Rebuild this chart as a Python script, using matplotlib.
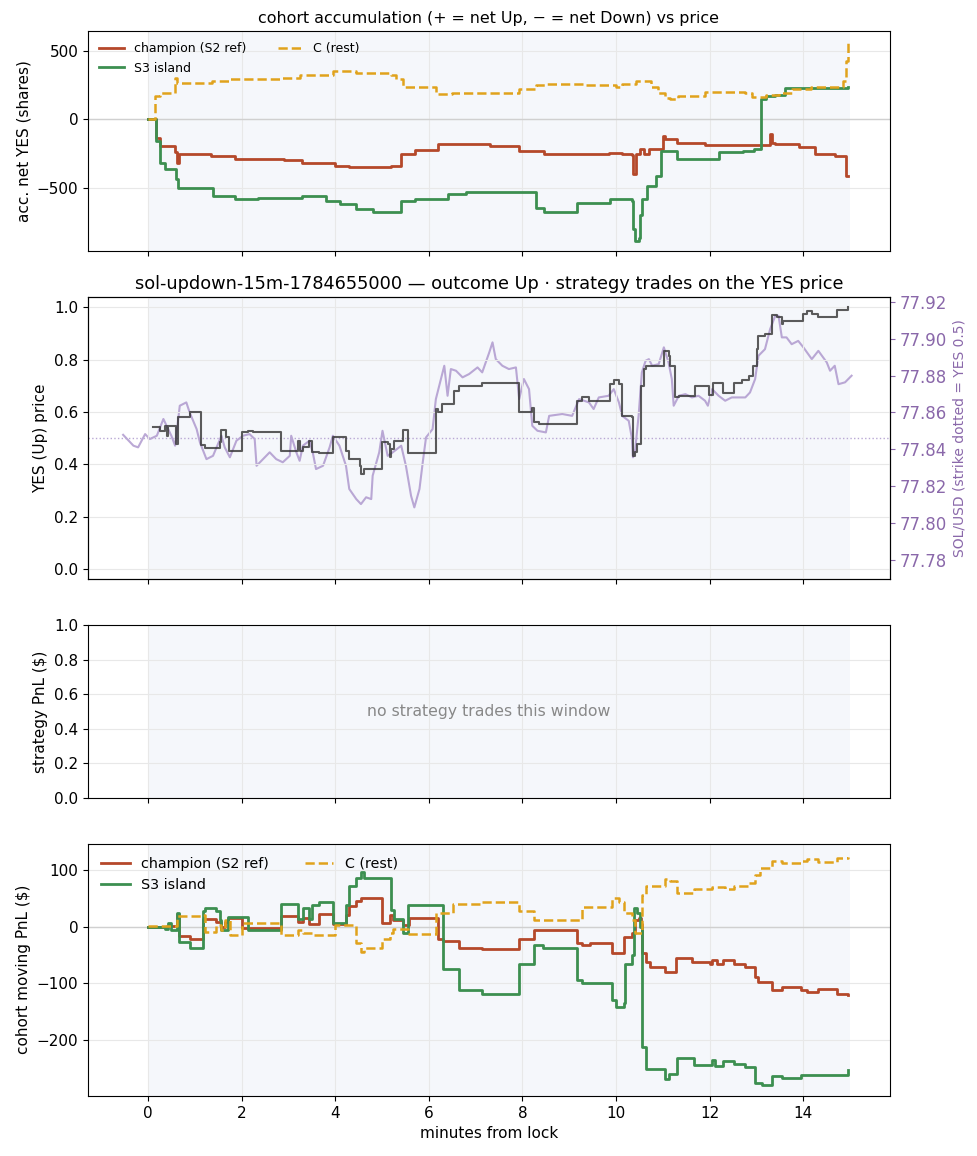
import matplotlib
matplotlib.use("Agg")
import matplotlib.pyplot as plt
import numpy as np

plt.rcParams["font.size"] = 11

# colours
RED = "#b5482a"
GREEN = "#3c8f50"
ORANGE = "#e0a21c"
PURPLE_LINE = "#a58cc8"
PURPLE_TXT = "#8a68aa"
SHADE = "#f5f7fb"

# ---- panel 1: cohort accumulation (net YES shares) ----
champ_acc_t = [0, 0.18, 0.26, 0.58, 0.61, 0.66, 1.35, 1.85, 2.9, 3.3, 4.0, 4.3, 5.2, 5.4,
               5.7, 6.2, 7.3, 7.93, 8.45, 9.85, 10.13, 10.33, 10.37, 10.42, 10.5, 10.6,
               10.7, 11.0, 11.05, 11.3, 11.9, 13.28, 13.32, 13.4, 13.9, 14.25, 14.67,
               14.92, 14.96]
champ_acc_v = [0, -134, -195, -240, -316, -255, -268, -287, -299, -321, -341, -350, -341,
               -255, -224, -183, -195, -231, -255, -243, -255, -262, -401, -255, -220,
               -250, -215, -122, -146, -175, -190, -110, -172, -180, -200, -255, -268,
               -414, -414]

s3_acc_t = [0, 0.18, 0.26, 0.36, 0.6, 0.65, 1.4, 1.85, 2.35, 3.3, 3.8, 4.1, 4.45, 4.8,
            5.2, 5.4, 5.7, 6.4, 6.8, 8.28, 8.45, 9.17, 9.88, 10.33, 10.37, 10.4, 10.48,
            10.52, 10.56, 10.65, 10.85, 10.95, 11.3, 12.2, 12.7, 12.95, 13.1, 13.2, 13.4,
            13.6, 14.96]
s3_acc_v = [0, -158, -316, -365, -438, -499, -560, -579, -572, -560, -596, -621, -657,
            -674, -674, -596, -584, -548, -531, -645, -674, -608, -584, -600, -800, -888,
            -870, -700, -584, -487, -414, -231, -292, -238, -231, -219, 146, 170, 182,
            231, 239]

c_acc_t = [0, 0.16, 0.26, 0.58, 0.63, 1.37, 1.75, 2.85, 3.24, 3.95, 4.45, 5.19, 5.3,
           5.45, 6.15, 6.5, 7.5, 7.93, 8.28, 8.5, 9.35, 9.99, 10.13, 10.42, 10.65, 10.75,
           10.9, 11.05, 11.15, 11.33, 11.9, 12.76, 12.9, 13.2, 13.47, 13.75, 14.17,
           14.85, 14.9, 14.96]
c_acc_v = [0, 170, 195, 304, 268, 280, 292, 304, 328, 353, 343, 328, 292, 240, 184, 190,
           196, 224, 248, 260, 248, 239, 256, 280, 280, 240, 190, 155, 151, 170, 200, 195,
           165, 182, 195, 219, 239, 280, 426, 572]

# ---- panel 2: YES price and SOL/USD ----
yes_t = [0.11, 0.26, 0.36, 0.40, 0.43, 0.59, 0.65, 0.89, 1.14, 1.21, 1.53, 1.56, 1.66,
         1.73, 2.00, 2.14, 2.24, 2.85, 3.20, 3.24, 3.31, 3.44, 3.51, 3.66, 3.95, 4.22,
         4.30, 4.52, 4.55, 4.62, 5.00, 5.12, 5.16, 5.19, 5.26, 5.45, 5.55, 6.15, 6.19,
         6.28, 6.54, 6.65, 7.14, 7.93, 8.21, 8.25, 8.35, 9.17, 9.28, 9.42, 9.88, 9.95,
         10.06, 10.13, 10.23, 10.34, 10.36, 10.41, 10.45, 10.54, 10.59, 10.63, 10.95,
         11.02, 11.12, 11.16, 11.25, 11.34, 11.68, 11.98, 12.08, 12.29, 12.51, 12.69,
         12.83, 12.93, 13.00, 13.04, 13.18, 13.32, 13.43, 13.54, 13.57, 14.00, 14.07,
         14.18, 14.32, 14.71, 14.96]
yes_p = [0.544, 0.528, 0.548, 0.509, 0.545, 0.478, 0.580, 0.601, 0.474, 0.461, 0.484,
         0.532, 0.504, 0.452, 0.522, 0.528, 0.522, 0.452, 0.490, 0.452, 0.465, 0.490,
         0.448, 0.442, 0.503, 0.452, 0.420, 0.395, 0.363, 0.382, 0.484, 0.478, 0.427,
         0.459, 0.490, 0.532, 0.442, 0.611, 0.601, 0.630, 0.681, 0.700, 0.711, 0.601,
         0.614, 0.561, 0.554, 0.643, 0.656, 0.643, 0.707, 0.723, 0.707, 0.586, 0.583,
         0.580, 0.433, 0.446, 0.478, 0.700, 0.764, 0.777, 0.777, 0.834, 0.815, 0.777,
         0.656, 0.662, 0.700, 0.665, 0.710, 0.673, 0.711, 0.723, 0.736, 0.777, 0.841,
         0.889, 0.898, 0.971, 0.962, 0.936, 0.949, 0.974, 0.987, 0.974, 0.962, 0.991,
         1.000]

sol_t = [-0.53, -0.31, -0.21, -0.06, 0.04, 0.19, 0.33, 0.50, 0.58, 0.68, 0.82, 0.89,
         1.04, 1.11, 1.25, 1.39, 1.57, 1.64, 1.75, 1.89, 2.03, 2.17, 2.28, 2.32, 2.60,
         2.74, 2.88, 3.03, 3.06, 3.17, 3.24, 3.31, 3.45, 3.52, 3.59, 3.74, 3.88, 3.95,
         4.09, 4.23, 4.30, 4.45, 4.55, 4.66, 4.77, 4.80, 4.94, 5.01, 5.12, 5.23, 5.41,
         5.51, 5.62, 5.69, 5.80, 5.87, 5.94, 6.08, 6.15, 6.33, 6.40, 6.47, 6.58, 6.72,
         6.86, 7.04, 7.14, 7.29, 7.36, 7.43, 7.57, 7.71, 7.86, 7.93, 8.03, 8.14, 8.21,
         8.32, 8.50, 8.57, 8.85, 9.06, 9.21, 9.42, 9.52, 9.63, 9.84, 9.95, 10.06, 10.13,
         10.27, 10.34, 10.36, 10.41, 10.48, 10.55, 10.63, 10.70, 10.77, 10.91, 11.02,
         11.12, 11.19, 11.23, 11.34, 11.48, 11.62, 11.76, 11.90, 11.96, 12.05, 12.19,
         12.33, 12.47, 12.76, 12.86, 12.97, 13.04, 13.18, 13.29, 13.40, 13.47, 13.54,
         13.64, 13.75, 13.89, 14.00, 14.18, 14.32, 14.50, 14.57, 14.67, 14.75, 14.89,
         15.03]
sol_usd = [77.8478, 77.8419, 77.8410, 77.8482, 77.8455, 77.8473, 77.8564, 77.8473,
           77.8419, 77.8636, 77.8654, 77.8600, 77.8509, 77.8437, 77.8346, 77.8364,
           77.8473, 77.8410, 77.8356, 77.8446, 77.8473, 77.8482, 77.8455, 77.8310,
           77.8383, 77.8346, 77.8329, 77.8364, 77.8473, 77.8383, 77.8337, 77.8419,
           77.8446, 77.8383, 77.8292, 77.8310, 77.8410, 77.8473, 77.8419, 77.8310,
           77.8184, 77.8129, 77.8102, 77.8139, 77.8129, 77.8256, 77.8383, 77.8500,
           77.8364, 77.8383, 77.8419, 77.8310, 77.8147, 77.8084, 77.8184, 77.8329,
           77.8464, 77.8509, 77.8672, 77.8853, 77.8690, 77.8835, 77.8826, 77.8790,
           77.8808, 77.8844, 77.8817, 77.8925, 77.8980, 77.8889, 77.8853, 77.8835,
           77.8844, 77.8672, 77.8781, 77.8726, 77.8527, 77.8500, 77.8491, 77.8581,
           77.8591, 77.8581, 77.8672, 77.8654, 77.8618, 77.8681, 77.8690, 77.8726,
           77.8654, 77.8581, 77.8554, 77.8455, 77.8356, 77.8401, 77.8581, 77.8817,
           77.8880, 77.8889, 77.8853, 77.8862, 77.8953, 77.8871, 77.8781, 77.8636,
           77.8690, 77.8699, 77.8681, 77.8690, 77.8663, 77.8636, 77.8726, 77.8690,
           77.8663, 77.8681, 77.8681, 77.8708, 77.8781, 77.8907, 77.8943, 77.9052,
           77.9124, 77.9124, 77.9007, 77.9007, 77.8970, 77.8988, 77.8953, 77.8889,
           77.8934, 77.8871, 77.8826, 77.8853, 77.8753, 77.8763, 77.8799]
strike = 77.846

# ---- panel 4: cohort moving PnL ($) ----
champ_pnl_t = [0, 0.40, 0.62, 0.67, 0.89, 1.17, 1.46, 1.57, 1.64, 1.70, 2.00, 2.85, 3.20,
               3.31, 3.45, 3.66, 3.95, 4.23, 4.30, 4.45, 4.55, 5.01, 5.16, 5.23, 5.44,
               5.58, 6.15, 6.19, 6.30, 6.65, 7.14, 7.93, 8.25, 9.17, 9.28, 9.45, 9.92,
               10.16, 10.34, 10.41, 10.48, 10.54, 10.55, 10.63, 10.73, 11.05, 11.27,
               11.62, 12.0, 12.05, 12.15, 12.29, 12.51, 12.76, 12.97, 13.04, 13.32, 13.54,
               13.96, 14.07, 14.32, 14.71, 14.96]
champ_pnl_v = [0, 2, 23, -16, -21, 13, 9, 0, 9, 16, -3, 19, 9, 15, 4, 22, 4, 21, 36, 46,
               50, 7, 21, 12, 3, 16, 16, -21, -26, -38, -40, -21, -6, -29, -32, -29, -47,
               -18, -12, 12, 15, 5, -47, -62, -71, -79, -56, -63, -66, -58, -66, -59, -66,
               -71, -88, -97, -112, -107, -112, -115, -109, -118, -121]

s3_pnl_t = [0, 0.36, 0.43, 0.50, 0.62, 0.67, 0.89, 1.17, 1.21, 1.46, 1.53, 1.57, 1.70,
            2.14, 2.85, 3.20, 3.31, 3.45, 3.51, 3.66, 3.95, 4.23, 4.30, 4.45, 4.55, 4.62,
            5.19, 5.26, 5.44, 5.55, 6.15, 6.30, 6.65, 7.14, 7.93, 8.25, 8.43, 9.17, 9.28,
            9.92, 9.99, 10.16, 10.20, 10.34, 10.38, 10.45, 10.52, 10.55, 10.63, 11.05,
            11.12, 11.30, 11.66, 12.05, 12.12, 12.29, 12.51, 12.76, 12.97, 13.11, 13.32,
            13.54, 13.96, 14.96]
s3_pnl_v = [0, -5, 6, -6, 24, -27, -38, 27, 32, 27, 12, -6, 17, -6, 40, 13, 32, 13, 38, 44,
            7, 38, 72, 85, 97, 85, 29, 13, -12, 38, 38, -74, -112, -118, -65, -32, -38,
            -94, -100, -129, -141, -135, -65, -50, 32, 24, 0, -212, -250, -268, -259,
            -232, -244, -234, -245, -236, -241, -248, -276, -278, -263, -266, -262, -253]

c_pnl_t = [0, 0.62, 1.17, 1.21, 1.46, 1.57, 1.64, 1.75, 2.00, 2.85, 3.20, 3.31, 3.52,
           3.99, 4.45, 4.55, 4.62, 5.01, 5.16, 5.23, 5.55, 6.15, 6.51, 7.14, 7.93, 8.25,
           9.28, 9.92, 10.06, 10.16, 10.34, 10.41, 10.55, 10.63, 11.05, 11.16, 11.30,
           11.66, 12.05, 12.33, 12.51, 12.83, 12.97, 13.07, 13.32, 13.54, 13.96, 14.07,
           14.32, 14.71, 14.96]
c_pnl_v = [2, 19, 21, -9, 3, -6, 12, -15, 6, -15, -6, -11, -15, 3, -29, -44, -38, -21,
           -12, -5, -13, 24, 40, 44, 27, 12, 34, 50, 44, 24, 12, -12, 56, 72, 84, 80, 59,
           66, 69, 66, 72, 76, 91, 103, 116, 112, 115, 119, 113, 121, 122]

fig = plt.figure(figsize=(9.78, 11.56), dpi=100)
gs = fig.add_gridspec(4, 1, height_ratios=[220, 282, 173, 252], hspace=0.197,
                      left=0.090, right=0.910, top=0.973, bottom=0.052)
ax1 = fig.add_subplot(gs[0])
ax2 = fig.add_subplot(gs[1], sharex=ax1)
ax3 = fig.add_subplot(gs[2], sharex=ax1)
ax4 = fig.add_subplot(gs[3], sharex=ax1)

for ax in (ax1, ax2, ax3, ax4):
    ax.grid(True, color="#e8e8e8", lw=0.8, zorder=0)
    ax.set_axisbelow(True)
    if ax is not ax2:
        ax.axvspan(0, 15, color=SHADE, zorder=0, lw=0)

# panel 1
ax1.axhline(0, color="#d0d0d0", lw=1, zorder=1)
ax1.step(champ_acc_t, champ_acc_v, where="post", color=RED, lw=2, label="champion (S2 ref)")
ax1.step(s3_acc_t, s3_acc_v, where="post", color=GREEN, lw=2, label="S3 island")
ax1.step(c_acc_t, c_acc_v, where="post", color=ORANGE, lw=1.8, ls="--", label="C (rest)")
ax1.set_ylim(-965, 645)
ax1.set_yticks([-500, 0, 500])
ax1.set_ylabel("acc. net YES (shares)")
ax1.set_title("cohort accumulation (+ = net Up, \u2212 = net Down) vs price", fontsize=11.4)
ax1.legend(ncol=2, loc="upper left", fontsize=9, frameon=False, columnspacing=2.5)

# panel 2
twin = ax2.twinx()
ax2.set_zorder(twin.get_zorder() + 1)
ax2.patch.set_visible(False)
twin.axvspan(0, 15, color=SHADE, zorder=0, lw=0)
twin.plot(sol_t, sol_usd, color=PURPLE_LINE, lw=1.5, alpha=0.75)
twin.axhline(strike, color="#b9a8d4", lw=1, ls=":")
twin.set_ylim(strike - 0.0766, strike + 0.0766)
twin.set_yticks([77.78, 77.80, 77.82, 77.84, 77.86, 77.88, 77.90, 77.92])
twin.tick_params(axis="y", colors=PURPLE_TXT, labelsize=12)
twin.set_ylabel("SOL/USD (strike dotted = YES 0.5)", color=PURPLE_TXT, fontsize=10)
ax2.step(yes_t, yes_p, where="post", color="#333333", lw=1.5, alpha=0.8)
ax2.set_ylim(-0.04, 1.04)
ax2.set_yticks(np.arange(0, 1.01, 0.2))
ax2.set_ylabel("YES (Up) price")
ax2.set_title("sol-updown-15m-1784655000 \u2014 outcome Up \u00b7 strategy trades on the YES price",
              fontsize=12.8)

# panel 3
ax3.set_ylim(0, 1)
ax3.set_yticks(np.arange(0, 1.01, 0.2))
ax3.set_ylabel("strategy PnL ($)")
ax3.text(0.5, 0.5, "no strategy trades this window", transform=ax3.transAxes,
         ha="center", va="center", color="#888888", fontsize=11.3)

# panel 4
ax4.axhline(0, color="#d0d0d0", lw=1, zorder=1)
ax4.step(champ_pnl_t, champ_pnl_v, where="post", color=RED, lw=2, label="champion (S2 ref)")
ax4.step(s3_pnl_t, s3_pnl_v, where="post", color=GREEN, lw=2, label="S3 island")
ax4.step(c_pnl_t, c_pnl_v, where="post", color=ORANGE, lw=1.8, ls="--", label="C (rest)")
ax4.set_ylim(-298, 146)
ax4.set_yticks([-200, -100, 0, 100])
ax4.set_ylabel("cohort moving PnL ($)")
ax4.set_xlabel("minutes from lock")
ax4.legend(ncol=2, loc="upper left", fontsize=10.3, frameon=False, columnspacing=2.5)

ax1.set_xlim(-1.28, 15.85)
ax1.set_xticks([0, 2, 4, 6, 8, 10, 12, 14])
for ax in (ax1, ax2, ax3):
    plt.setp(ax.get_xticklabels(), visible=False)

fig.savefig("out.png", dpi=100)
